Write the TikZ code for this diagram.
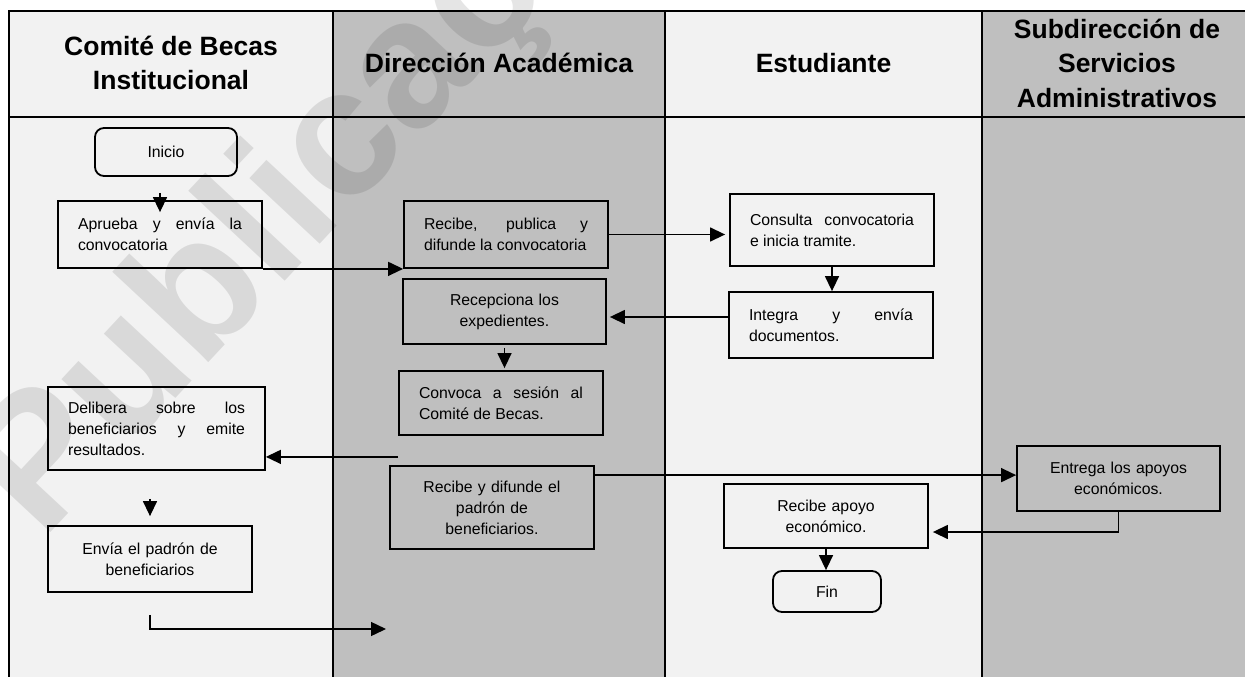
\documentclass[tikz,border=0pt]{standalone}
\usepackage{fontspec}
\setmainfont{Liberation Sans}
\usetikzlibrary{arrows.meta,calc}

\definecolor{claro}{HTML}{F2F2F2}
\definecolor{oscuro}{HTML}{BFBFBF}
% justified line inside a box
\newcommand{\jline}[1]{\makebox[\hsize][s]{#1}}

\begin{document}
\begin{tikzpicture}[x=1pt, y=-1pt,
    caja/.style={draw, line width=1.8pt, inner xsep=20pt, inner ysep=0pt,
        font=\fontsize{15.8}{21}\selectfont},
    terminal/.style={caja, rounded corners=9pt, align=center},
    flecha/.style={line width=1.4pt, -{Triangle[length=15pt, width=14pt]}},
    carril/.style={line width=2pt},
    titulo/.style={font=\fontsize{26.5}{34.5}\selectfont\bfseries, align=center},
    marca/.style={font=\fontsize{182}{182}\selectfont\bfseries, text=black,
        text opacity=0.1, inner sep=0pt}]
    \useasboundingbox (0,0) rectangle (1245,677);

    % Lanes
    \foreach \xa/\xb/\tono in {9/333/claro, 333/665/oscuro, 665/982/claro, 982/1245/oscuro} {
        \fill[\tono] (\xa,11) rectangle (\xb,677);
    }

    % Watermark
    \node[marca, anchor=base west, rotate=47] (sello) at (42,542) {Publicação};

    \draw[carril] (9,677) -- (9,11) -- (1245,11);
    \draw[carril] (9,117) -- (1245,117);
    \foreach \x in {333,665,982} {
        \draw[carril] (\x,11) -- (\x,677);
    }

    % Headers
    \node[titulo] (comite) at (171,63) {Comité de Becas\\Institucional};
    \node[titulo] (direccion) at (499,63) {Dirección Académica};
    \node[titulo] (estudiante) at (823.5,63) {Estudiante};
    \node[titulo] (subdireccion) at (1117,63) {Subdirección de\\Servicios\\Administrativos};

    % Comité de Becas Institucional
    \node[terminal, minimum width=142pt, minimum height=48pt] (inicio) at (166,152) {Inicio};
    \node[caja, text width=164pt, minimum height=67pt, align=justify] (aprueba) at (160,234.5)
        {\jline{Aprueba y envía la}\\convocatoria};
    \node[caja, text width=177pt, minimum height=83pt, align=justify] (delibera) at (156.5,428.5)
        {\jline{Delibera sobre los}\\\jline{beneficiarios y emite}\\resultados.};
    \node[caja, text width=164pt, minimum height=66pt, align=center] (envia) at (150,559)
        {Envía el padrón de\\beneficiarios};

    % Dirección Académica
    \node[caja, text width=164pt, minimum height=67pt, align=justify] (recibe) at (506,234.5)
        {\jline{Recibe, publica y}\\difunde la convocatoria};
    \node[caja, text width=163pt, minimum height=65pt, align=center] (recepciona) at (504.5,311.5)
        {Recepciona los\\expedientes.};
    \node[caja, text width=164pt, minimum height=64pt, align=justify] (convoca) at (501,403)
        {\jline{Convoca a sesión al}\\Comité de Becas.};
    \node[caja, text width=164pt, minimum height=83pt, align=center] (difunde) at (492,507.5)
        {Recibe y difunde el\\padrón de\\beneficiarios.};

    % Estudiante
    \node[caja, text width=164pt, minimum height=72pt, align=justify] (consulta) at (832,230)
        {\jline{Consulta convocatoria}\\e inicia tramite.};
    \node[caja, text width=164pt, minimum height=66pt, align=justify] (integra) at (831,325)
        {\jline{Integra y envía}\\documentos.};
    \node[caja, text width=164pt, minimum height=64pt, align=center] (apoyo) at (826,516)
        {Recibe apoyo\\económico.};
    \node[terminal, minimum width=108pt, minimum height=41pt] (fin) at (827,591.5) {Fin};

    % Subdirección de Servicios Administrativos
    \node[caja, text width=163pt, minimum height=65pt, align=center] (entrega) at (1118.5,478.5)
        {Entrega los apoyos\\económicos.};

    % Connectors
    \coordinate (destino) at (386,629);
    \draw[flecha] (inicio.south -| aprueba.north) ++(0,16) -- ([yshift=-12pt]aprueba.north);
    \draw[flecha] (aprueba.south east) -- (recibe.south west);
    \draw[flecha, shorten >=4pt] (recibe.east) -- (recibe.east -| consulta.west);
    \draw[flecha] (consulta.south) -- (consulta.south |- integra.north);
    \draw[flecha, shorten >=3pt] ([yshift=8pt]integra.west) -- ([yshift=8pt]integra.west -| recepciona.east);
    \draw[flecha, shorten >=2pt] ([yshift=-3pt]recepciona.south) -- (recepciona.south |- convoca.north);
    \draw[flecha] ([yshift=-21pt]convoca.south west) -- ([yshift=-21pt]convoca.south west -| delibera.east);
    \draw[flecha] (delibera.south -| envia.north) ++(0,28) -- ([yshift=9pt]envia.north);
    \draw[flecha] ([yshift=-10pt]difunde.north east) -- ([yshift=-10pt]difunde.north east -| entrega.west);
    \draw[flecha] ([yshift=-22pt]envia.south) |- (destino);
    \draw[flecha] (entrega.south) |- ([xshift=4pt, yshift=-16pt]apoyo.east);
    \draw[flecha] (apoyo.south) -- (apoyo.south |- fin.north);
\end{tikzpicture}
\end{document}
